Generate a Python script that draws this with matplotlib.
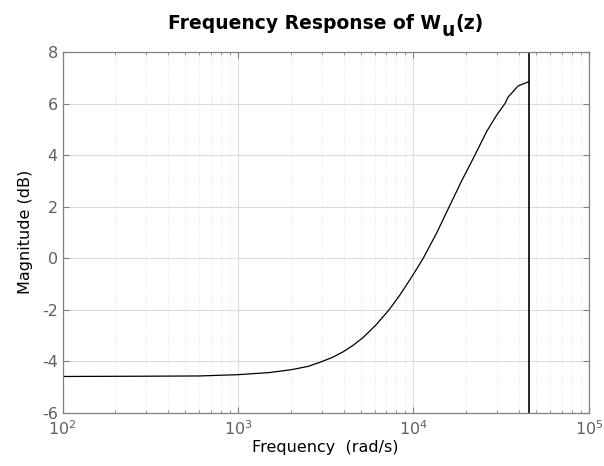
import matplotlib
matplotlib.use('Agg')
import matplotlib.pyplot as plt
import numpy as np

# Magnitude, frequency in rad/s
freq = [100, 300, 600, 1000, 1500, 2000, 2500, 2930, 3450, 3980, 4550,
        5180, 6170, 7280, 8380, 9550, 10400, 11380, 13550, 16000, 18830,
        22400, 26100, 29780, 33200, 34670, 39500, 45700]
mag_db = [-4.60, -4.59, -4.58, -4.53, -4.45, -4.34, -4.21, -4.05, -3.86,
          -3.64, -3.38, -3.08, -2.57, -2.0, -1.43, -0.84, -0.44, 0.0,
          0.97, 2.0, 3.0, 4.0, 4.91, 5.55, 6.0, 6.26, 6.69, 6.86]
nyquist = 45700

x_lim = (1e2, 1e5)
y_lim = (-6, 8)
y_ticks = [-6, -4, -2, 0, 2, 4, 6, 8]

spine_col = '#808080'
label_col = '#606060'

fig = plt.figure(figsize=(6.04, 4.66), dpi=100)
ax = fig.add_axes([0.1035, 0.1148, 0.8715, 0.7732])

ax.semilogx(freq, mag_db, color='black', lw=0.9)
ax.axvline(nyquist, color='black', lw=1.2)

ax.set_xlim(x_lim)
ax.set_ylim(y_lim)
ax.set_yticks(y_ticks)
ax.set_yticklabels([str(v) for v in y_ticks])

# matlab-ish grid
ax.grid(True, which='major', color='#dcdcdc', lw=0.8, ls='-')
ax.grid(True, which='minor', axis='x', color='#d0d0d0', lw=0.6, ls=(0, (1, 3)))
ax.set_axisbelow(True)

for s in ax.spines.values():
    s.set_color(spine_col)
    s.set_linewidth(0.9)
ax.tick_params(which='both', direction='in', top=True, right=True,
               color=spine_col, labelcolor=label_col, labelsize=11.5)
ax.tick_params(which='major', length=4)
ax.tick_params(which='minor', length=2.5)
ax.tick_params(axis='x', pad=5)

ax.set_xlabel('Frequency  (rad/s)', fontsize=11.5, labelpad=1)
ax.set_ylabel('Magnitude (dB)', fontsize=11.5, labelpad=6)

# title with a big matlab style subscript, built from three pieces
title_y = 1 - 29 / 466
tkw = dict(fontsize=13.5, fontweight='bold')
t1 = fig.text(0.3, title_y, 'Frequency Response of W', ha='left', va='baseline', **tkw)
t2 = ax.annotate('u', xy=(1, title_y), xycoords=(t1, fig.transFigure), xytext=(0.5, -5),
                 textcoords='offset points', ha='left', va='baseline', **tkw)
t3 = ax.annotate('(z)', xy=(1, title_y), xycoords=(t2, fig.transFigure), xytext=(0.5, 0),
                 textcoords='offset points', ha='left', va='baseline', **tkw)
fig.canvas.draw()
r = fig.canvas.get_renderer()
left = t1.get_window_extent(r).x0
right = t3.get_window_extent(r).x1
centre = (ax.get_position().x0 + ax.get_position().x1) / 2 * fig.bbox.width
t1.set_x((left + centre - (left + right) / 2) / fig.bbox.width)

fig.savefig('out.png', dpi=100)
